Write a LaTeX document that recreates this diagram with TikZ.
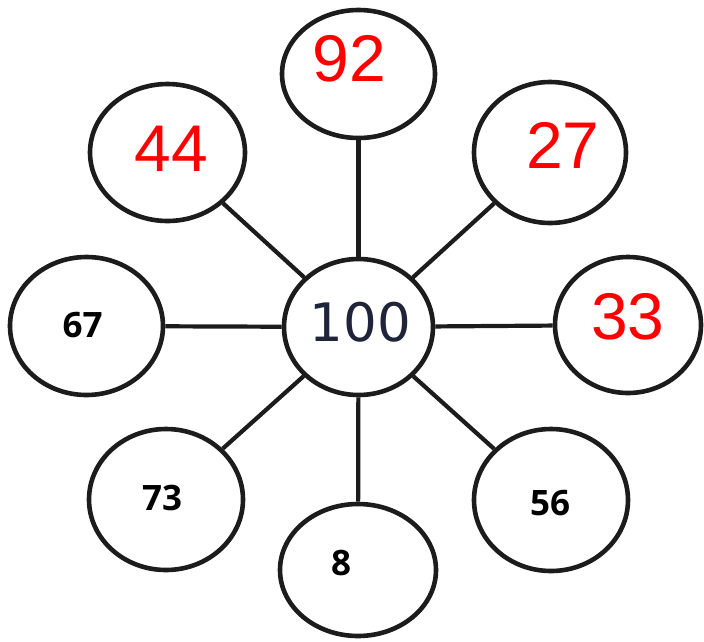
\documentclass[tikz,border=0pt]{standalone}
\usepackage{fontspec}
\usetikzlibrary{shapes.geometric}
\newfontfamily\redfont{Liberation Sans}
\newfontfamily\blackfont{Open Sans}
\newfontfamily\hubfont{DejaVu Sans}
\definecolor{numred}{RGB}{255,0,0}
\definecolor{hubblue}{RGB}{32,36,58}
\definecolor{linegray}{RGB}{28,28,28}
\tikzset{
  bubble/.style={draw=linegray, line width=4.6pt, ellipse, inner sep=0pt, fill=white},
  spoke/.style={draw=linegray, line width=4.2pt},
  rednum/.style={text=numred, font=\redfont\fontsize{66}{66}\selectfont, inner sep=0pt},
  blacknum/.style={text=black, font=\blackfont\bfseries\fontsize{35}{35}\selectfont, inner sep=0pt},
  hubnum/.style={text=hubblue, font=\hubfont\fontsize{53}{53}\selectfont, inner sep=0pt}
}
\begin{document}
\begin{tikzpicture}[x=1pt,y=-1pt]
\useasboundingbox (0,0) rectangle (704,641);
% nodes
\node[bubble, minimum width=149pt, minimum height=136pt,
      label={[hubnum, xshift=2pt, yshift=5pt]center:100}] (hub) at (358.5,327) {};
\node[bubble, minimum width=153pt, minimum height=128pt,
      label={[rednum, xshift=-9pt, yshift=15pt]center:92}] (n92) at (358.5,74) {};
\node[bubble, minimum width=155pt, minimum height=137pt,
      label={[rednum, xshift=4pt, yshift=4pt]center:44}] (n44) at (167.5,152.5) {};
\node[bubble, minimum width=152pt, minimum height=141pt,
      label={[rednum, xshift=13pt, yshift=7pt]center:27}] (n27) at (550,152.5) {};
\node[bubble, minimum width=153pt, minimum height=138pt,
      label={[blacknum, xshift=-4pt, yshift=1pt]center:67}] (n67) at (86.5,326) {};
\node[bubble, minimum width=146pt, minimum height=136pt,
      label={[rednum, xshift=0pt, yshift=8pt]center:33}] (n33) at (628,325) {};
\node[bubble, minimum width=154pt, minimum height=141pt,
      label={[blacknum, xshift=-4pt, yshift=2pt]center:73}] (n73) at (166,499.5) {};
\node[bubble, minimum width=154pt, minimum height=142pt,
      label={[blacknum, xshift=-1pt, yshift=-3pt]center:56}] (n56) at (551,500) {};
\node[bubble, minimum width=156pt, minimum height=132pt,
      label={[blacknum, xshift=-17pt, yshift=7pt]center:8}] (n8) at (358,570) {};
% connectors
\draw[spoke] (hub) -- (n92);
\draw[spoke] (hub) -- (n44);
\draw[spoke] (hub) -- (n27);
\draw[spoke] (hub) -- (n67);
\draw[spoke] (hub) -- (n33);
\draw[spoke] (hub) -- (n73);
\draw[spoke] (hub) -- (n56);
\draw[spoke] (hub) -- (n8);
\end{tikzpicture}
\end{document}
